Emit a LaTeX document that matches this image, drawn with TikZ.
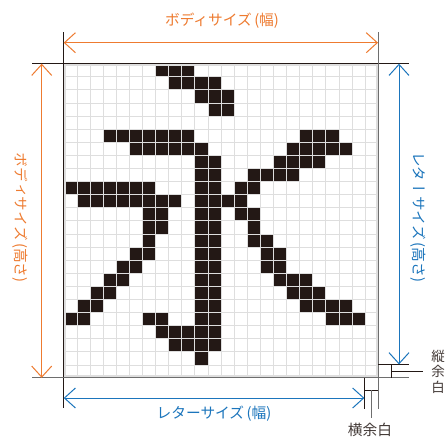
\documentclass[tikz,border=0pt]{standalone}
\usepackage{fontspec}
\setmainfont{Noto Sans CJK JP}
\newfontfamily\vj[Vertical=RotatedGlyphs]{Noto Sans CJK JP}
\usetikzlibrary{arrows.meta}
\definecolor{orangeC}{HTML}{EE7B30}
\definecolor{blueC}{HTML}{1B75BC}
\definecolor{inkC}{HTML}{231815}
\definecolor{gridC}{HTML}{DEDEDE}
\definecolor{edgeC}{HTML}{6E6E6E}
\tikzset{
  dim/.style={line width=1pt,{Straight Barb[length=11pt,width=20pt,line width=1pt]}-{Straight Barb[length=11pt,width=20pt,line width=1pt]}},
  body/.style={dim,draw=orangeC},
  letter/.style={dim,draw=blueC},
  frameA/.style={draw=inkC,line width=0.9pt},
  frameB/.style={draw=edgeC,line width=1pt},
  thin ink/.style={draw=inkC,line width=0.8pt},
  thin gray/.style={draw=edgeC,line width=0.8pt},
  label/.style={inner sep=0pt,font=\fontsize{14.7}{14.7}\selectfont},
}
\newcommand{\rowcells}[2]{\foreach \c in {#2}{\fill[inkC] (63.9+13.1*\c,63.7+13.1*#1) rectangle ++(13.1,13.1);}}
\begin{document}
\begin{tikzpicture}[x=1pt,y=-1pt]
\useasboundingbox (0,0) rectangle (445,437);
\fill[white] (0,0) rectangle (445,437);
% letter
\rowcells{0}{7,8,9}
\rowcells{1}{8,9,10,11}
\rowcells{2}{10,11,12}
\rowcells{3}{11,12}
\rowcells{5}{3,4,5,6,7,8,9,18,19,20}
\rowcells{6}{5,6,7,8,9,10,17,18,19,20,21}
\rowcells{7}{10,11,16,17,18,19}
\rowcells{8}{10,11,14,15,16,17}
\rowcells{9}{0,1,2,3,4,5,6,10,11,13,14}
\rowcells{10}{1,2,3,4,5,6,7,8,10,11,12,13}
\rowcells{11}{6,7,10,11,13,14}
\rowcells{12}{6,7,10,11,14}
\rowcells{13}{6,10,11,14,15}
\rowcells{14}{5,6,10,11,15,16}
\rowcells{15}{4,5,10,11,15,16}
\rowcells{16}{3,4,10,11,16,17,18}
\rowcells{17}{2,3,10,11,17,18,19}
\rowcells{18}{1,2,10,11,18,19,20,21}
\rowcells{19}{0,1,6,7,10,11,20,21,22}
\rowcells{20}{7,8,9,10,11}
\rowcells{21}{8,9,10,11}
\rowcells{22}{10}
% grid
\foreach \i in {1,...,23}{
  \draw[gridC,line width=1pt] (63.9+13.1*\i,63.7) -- (63.9+13.1*\i,377.8);
  \draw[gridC,line width=1pt] (63.7,63.7+13.1*\i) -- (378,63.7+13.1*\i);
}
\draw[gridC,line width=2.4pt] (65,65) rectangle (377,376.5);
% frame lines
\draw[frameA] (63.7,32) -- (63.7,408);
\draw[frameA] (32,63.7) -- (409,63.7);
\draw[frameB] (378,32) -- (378,409);
\draw[frameB] (32,377.8) -- (409,377.8);
% margins
\coordinate (mT) at (378,364.4);
\coordinate (mTe) at (409,364.4);
\coordinate (mL) at (364.4,377.8);
\coordinate (mLe) at (364.4,409);
\draw[thin ink] (mT) -- (mTe);
\draw[thin ink] (mL) -- (mLe);
\coordinate (vb1) at (391.7,364.4);
\coordinate (vb2) at (391.7,377.8);
\coordinate (hb1) at (364.4,390);
\coordinate (hb2) at (378,390);
\draw[thin ink] (vb1) -- (vb2);
\draw[thin ink] (391.7,371) -- (422.7,371);
\draw[thin ink] (hb1) -- (hb2);
\draw[thin gray] (371,390) -- (371,418);
% dimension arrows
\coordinate (a1) at (63.7,42.7); \coordinate (a2) at (378,42.7);
\coordinate (b1) at (41.7,63.7); \coordinate (b2) at (41.7,377.8);
\coordinate (c1) at (399,63.7);  \coordinate (c2) at (399,364.4);
\coordinate (d1) at (63.7,398);  \coordinate (d2) at (364.4,398);
\draw[body] (a1) -- (a2);
\draw[body] (b1) -- (b2);
\draw[letter] (c1) -- (c2);
\draw[letter] (d1) -- (d2);
% labels
\node[label,text=orangeC] (t1) at (222,21) {ボディサイズ\,(幅)};
\node[label,text=blueC] (t2) at (214,414) {レターサイズ\,(幅)};
\node[label,text=orangeC,rotate=-90] (t3) at (20,217.5) {{\vj ボディサイズ}\,({\vj 高さ})};
\node[label,text=blueC,rotate=-90] (t4) at (418,217) {{\vj レターサイズ}\,({\vj 高さ})};
\node[label,text=inkC!85,align=center,font=\fontsize{13.5}{15.5}\selectfont] (t5) at (438,371.5) {縦\\余\\白};
\node[label,text=inkC!85] (t6) at (370,430) {横余白};
\end{tikzpicture}
\end{document}
